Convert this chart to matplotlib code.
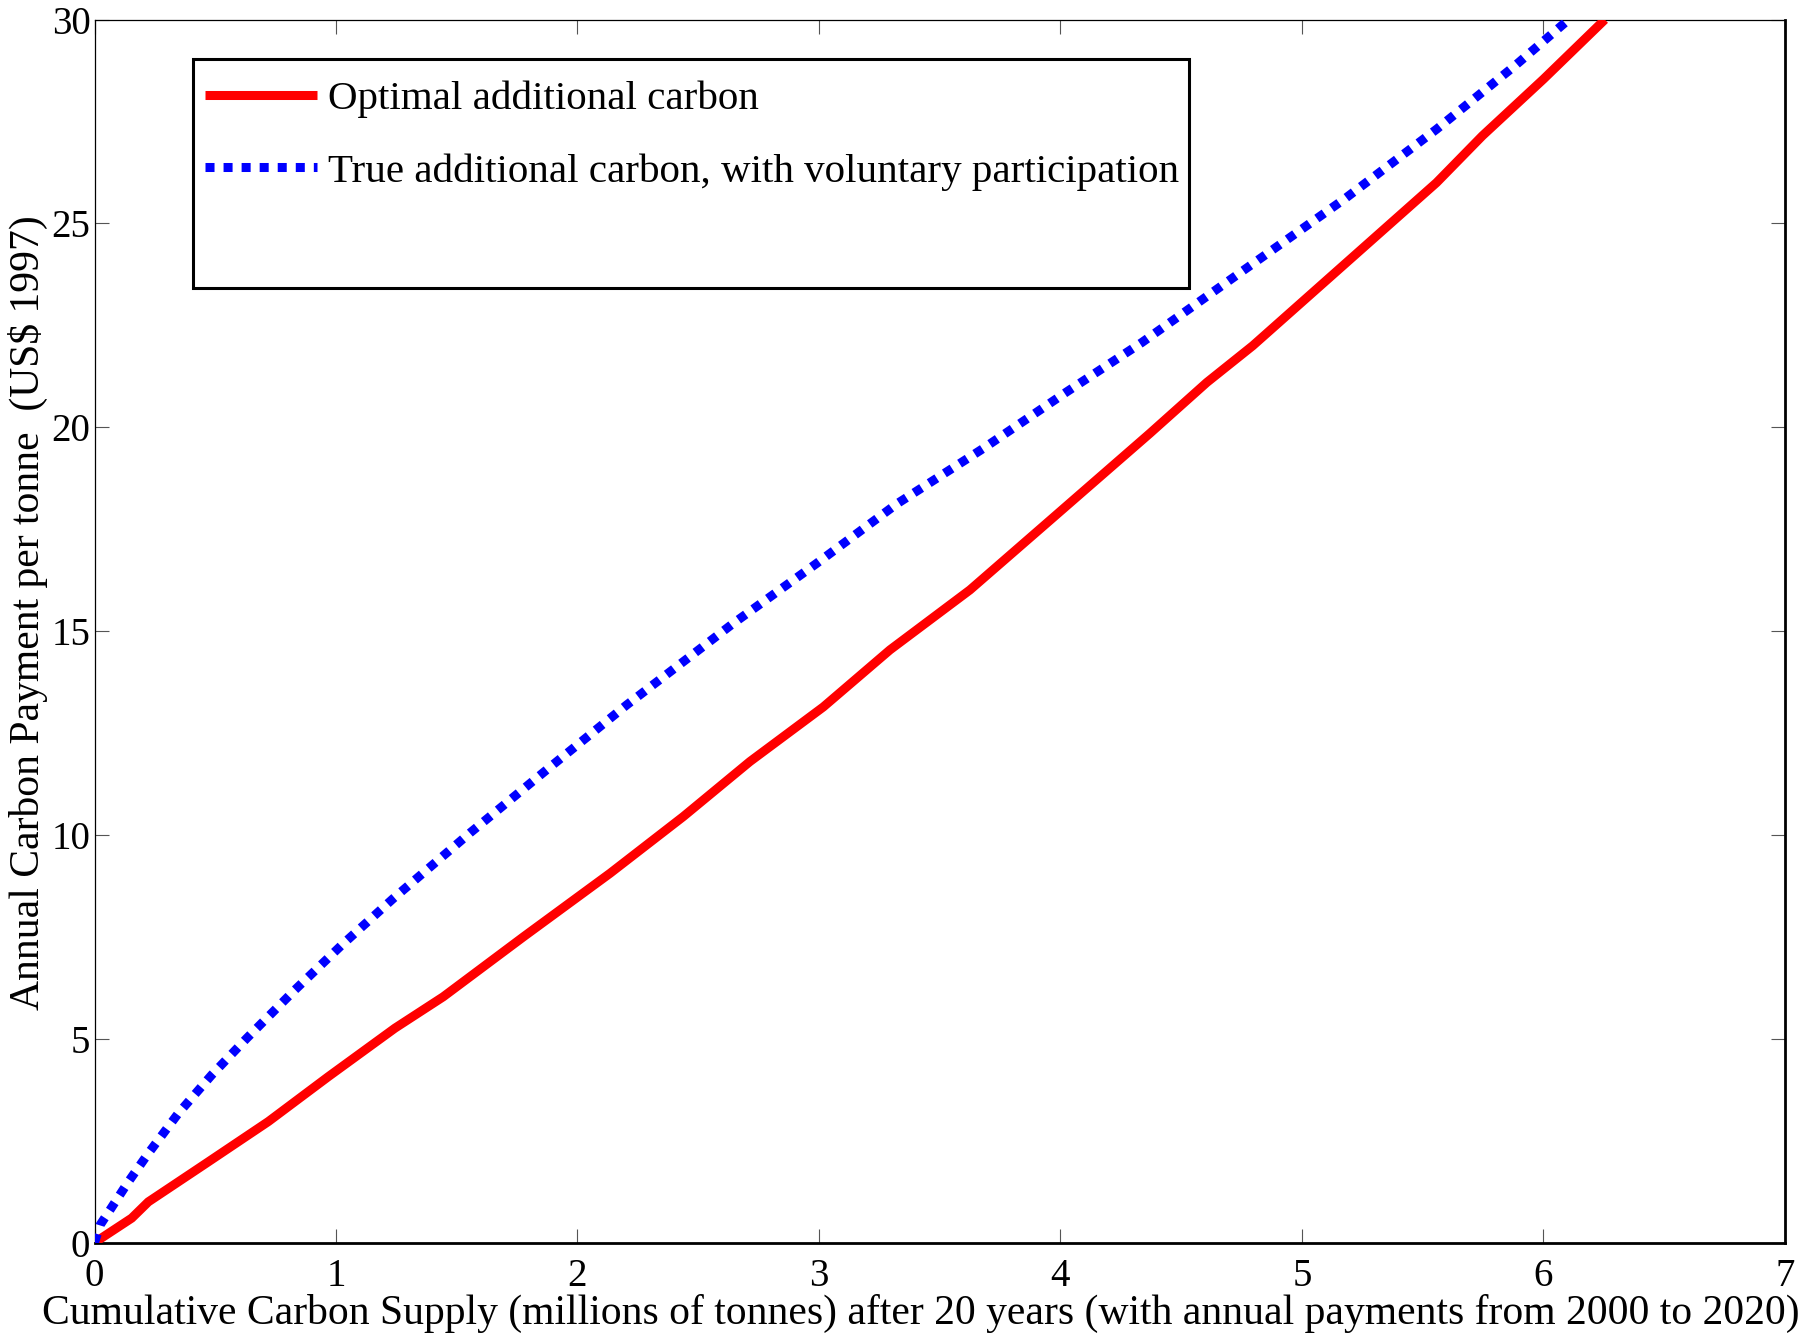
import numpy as np
import matplotlib
matplotlib.use("Agg")
import matplotlib.pyplot as plt
from matplotlib.patches import Rectangle

plt.rcParams['font.family'] = ['Liberation Serif', 'DejaVu Serif']

# Optimal additional carbon (red, solid)
opt_x = [0, 0.154, 0.223, 0.471, 0.72, 0.968, 1.244, 1.444, 1.776, 2.135,
         2.438, 2.714, 3.018, 3.294, 3.625, 3.957, 4.37, 4.606, 4.796,
         5.557, 5.747, 6.0, 6.254]
opt_y = [0, 0.60, 1.00, 1.98, 2.97, 4.07, 5.26, 6.03, 7.50, 9.06,
         10.45, 11.80, 13.14, 14.54, 16.01, 17.72, 19.85, 21.10, 22.0,
         26.0, 27.15, 28.54, 30.0]

# True additional carbon, voluntary participation (blue, dotted)
true_x = [0, 0.023, 0.064, 0.14, 0.223, 0.347, 0.485, 0.63, 0.83, 1.024,
          1.237, 1.555, 1.879, 2.204, 2.48, 2.645, 2.99, 3.322, 3.68,
          4.026, 4.337, 4.765, 5.176, 5.557, 5.882, 6.104]
true_y = [0, 0.43, 0.80, 1.49, 2.19, 3.17, 4.11, 5.01, 6.2, 7.3,
          8.44, 10.05, 11.63, 13.19, 14.44, 15.19, 16.66, 18.12, 19.48,
          20.87, 22.08, 23.88, 25.60, 27.31, 28.87, 30.0]

labels = ['Optimal additional carbon',
          'True additional carbon, with voluntary participation']
x_ticks = [0, 1, 2, 3, 4, 5, 6, 7]
y_ticks = [0, 5, 10, 15, 20, 25, 30]

FS_TICK = 28
FS_LAB = 30
FS_LEG = 29.5

fig = plt.figure(figsize=(18.06, 13.37), dpi=100, facecolor='white')
ax = fig.add_axes([94.5 / 1806, 1 - 1242.6 / 1337,
                   (1785 - 94.5) / 1806, (1242.6 - 19.6) / 1337])

l1, = ax.plot(opt_x, opt_y, color='#ff0000', lw=6.5, solid_capstyle='butt',
              zorder=3)
l2, = ax.plot(true_x, true_y, color='#0000ff', lw=6.5, linestyle=(0, (1, 1)),
              dash_capstyle='butt', zorder=3)

ax.set_xlim(0, 7)
ax.set_ylim(0, 30)
ax.set_xticks(x_ticks)
ax.set_yticks(y_ticks)
ax.tick_params(which='both', direction='in', length=10, width=0.8,
               color='#555555', top=True, right=True, labelsize=FS_TICK)
ax.tick_params(axis='x', pad=11)
ax.tick_params(axis='y', pad=3)

for side in ['left', 'top']:
    ax.spines[side].set_linewidth(0.9)
for side in ['bottom', 'right']:
    ax.spines[side].set_linewidth(2.0)

ax.set_xlabel('Cumulative Carbon Supply (millions of tonnes) after 20 years '
              '(with annual payments from 2000 to 2020)', fontsize=FS_LAB)
ax.set_ylabel(r'Annual Carbon Payment per tonne  (US\$ 1997)', fontsize=FS_LAB)
ax.xaxis.set_label_coords(0.489, -0.0418)
ax.yaxis.set_label_coords(-0.0278, 0.515)

# legend box (MATLAB style, with empty space below the entries)
ax.add_patch(Rectangle((0.05856, 0.7805), 0.5889, 0.1872,
                       transform=ax.transAxes, facecolor='white',
                       edgecolor='black', lw=2.2, zorder=4))
leg = ax.legend([l1, l2], labels, loc='upper left',
                bbox_to_anchor=(0.0654, 0.950), frameon=False,
                borderaxespad=0, borderpad=0, fontsize=FS_LEG,
                handlelength=2.73, handletextpad=0.27, labelspacing=0.84)
leg.set_zorder(5)

fig.savefig('out.png', dpi=100, facecolor='white')
